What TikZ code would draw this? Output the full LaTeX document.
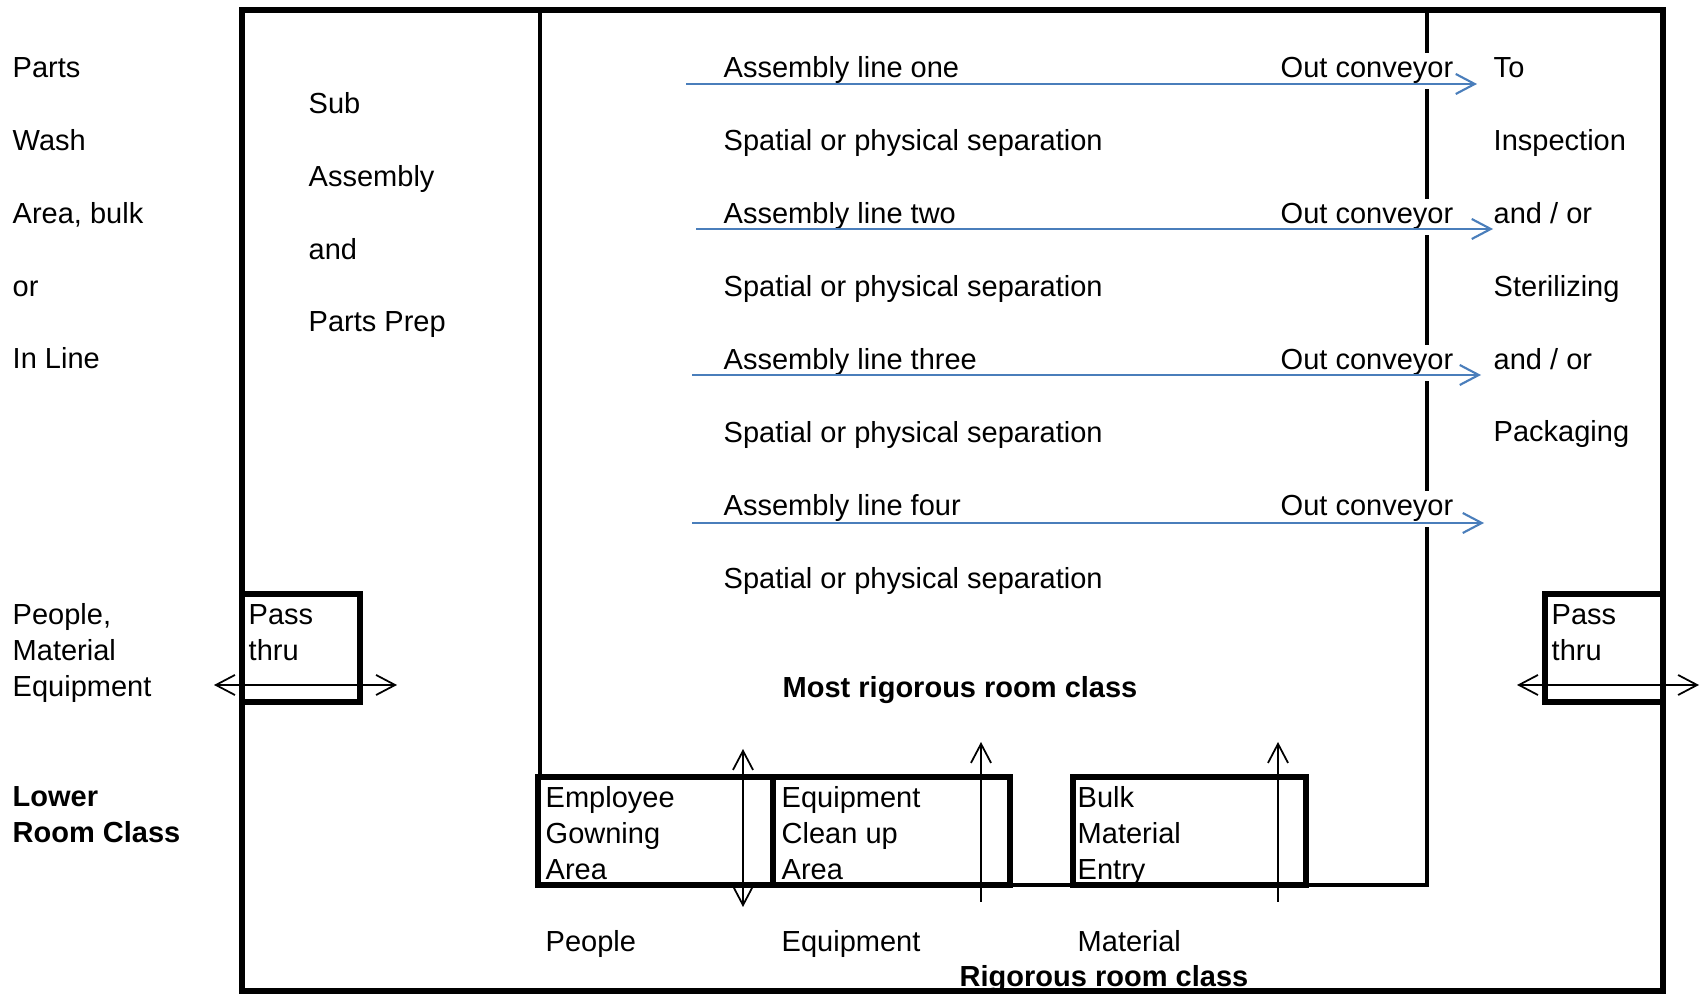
\documentclass[tikz,border=0pt]{standalone}
\usepackage{fontspec}
\setmainfont{Liberation Sans}
\usetikzlibrary{arrows.meta}
\definecolor{lineblue}{RGB}{74,126,187}
\tikzset{txt/.style={anchor=base west, inner sep=0pt,
    font=\fontsize{8.25}{10.3}\selectfont},
  boldtxt/.style={txt, font=\fontsize{8.25}{10.3}\selectfont\bfseries},
  stack/.style={txt, align=left},
  boldstack/.style={boldtxt, align=left},
  widestack/.style={txt, align=left, font=\fontsize{8.25}{20.75}\selectfont},
  outlabel/.style={txt, fill=white, inner ysep=0.05cm},
  wall/.style={line width=1.55pt},
  thinwall/.style={line width=0.9pt},
  flow/.style={line width=0.5pt},
  conveyor/.style={line width=0.6pt, draw=lineblue},
  >={Straight Barb[length=1.9mm, width=2mm]}
}
\begin{document}
\begin{tikzpicture}[x=0.01cm, y=-0.01cm]
  \useasboundingbox (0,0) rectangle (1703,995);
  % walls
  \draw[wall] (242,10) rectangle (1663,991);
  \draw[thinwall] (540,10) -- (540,777);
  \draw[thinwall] (1427,10) -- (1427,885) -- (1306,885);
  \draw[thinwall] (1010,885) -- (1073,885);
  % pass thru and entry rooms
  \draw[wall] (242,594) rectangle (360,702);
  \draw[wall] (1545,594) rectangle (1663,702);
  \draw[wall] (538,777) rectangle (773,885);
  \draw[wall] (773,777) rectangle (1010,885);
  \draw[wall] (1073,777) rectangle (1306,885);

  % stacked texts sit on the baseline of their last line
  \node[widestack] (wash) at (12,369) {Parts\\Wash\\Area, bulk\\or\\In Line};
  \node[widestack] (subasm) at (308,332) {Sub\\Assembly\\and\\Parts Prep};
  \node[widestack] (dest) at (1493,442)
    {To\\Inspection\\and / or\\Sterilizing\\and / or\\Packaging};

  \node[txt] (line1) at (723,78) {Assembly line one};
  \node[txt] (sep1) at (723,151) {Spatial or physical separation};
  \node[txt] (line2) at (723,224) {Assembly line two};
  \node[txt] (sep2) at (723,297) {Spatial or physical separation};
  \node[txt] (line3) at (723,370) {Assembly line three};
  \node[txt] (sep3) at (723,443) {Spatial or physical separation};
  \node[txt] (line4) at (723,516) {Assembly line four};
  \node[txt] (sep4) at (723,589) {Spatial or physical separation};
  \node[outlabel] (out1) at (1280,78) {Out conveyor};
  \node[outlabel] (out2) at (1280,224) {Out conveyor};
  \node[outlabel] (out3) at (1280,370) {Out conveyor};
  \node[outlabel] (out4) at (1280,516) {Out conveyor};

  \node[stack] (pme) at (12,697) {People,\\Material\\Equipment};
  \node[boldstack] (lower) at (12,843) {Lower\\Room Class};
  \node[stack] (passl) at (248,661) {Pass\\thru};
  \node[stack] (passr) at (1551,661) {Pass\\thru};
  \node[boldtxt] (most) at (782,698) {Most rigorous room class};

  \node[stack] (gown) at (545,880) {Employee\\Gowning\\Area};
  \node[stack] (clean) at (781,880) {Equipment\\Clean up\\Area};
  \node[stack] (bulk) at (1077,880) {Bulk\\Material\\Entry};
  \node[txt] (people) at (545,952) {People};
  \node[txt] (equip) at (781,952) {Equipment};
  \node[txt] (mat) at (1077,952) {Material};
  \node[boldtxt] (rigorous) at (959,987) {Rigorous room class};

  % conveyors
  \coordinate (c1a) at (686,84);
  \coordinate (c1b) at (1477,84);
  \coordinate (c2a) at (696,229);
  \coordinate (c2b) at (1493,229);
  \coordinate (c3a) at (692,375);
  \coordinate (c3b) at (1481,375);
  \coordinate (c4a) at (692,523);
  \coordinate (c4b) at (1484,523);
  \draw[conveyor, ->] (c1a) -- (c1b);
  \draw[conveyor, ->] (c2a) -- (c2b);
  \draw[conveyor, ->] (c3a) -- (c3b);
  \draw[conveyor, ->] (c4a) -- (c4b);

  % transfers
  \coordinate (pl1) at (214,685);
  \coordinate (pl2) at (397,685);
  \coordinate (pr1) at (1517,685);
  \coordinate (pr2) at (1699,685);
  \coordinate (g1) at (743,749);
  \coordinate (g2) at (743,907);
  \coordinate (e1) at (981,902);
  \coordinate (e2) at (981,742);
  \coordinate (m1) at (1278,902);
  \coordinate (m2) at (1278,742);
  \draw[flow, <->] (pl1) -- (pl2);
  \draw[flow, <->] (pr1) -- (pr2);
  \draw[flow, <->] (g1) -- (g2);
  \draw[flow, ->] (e1) -- (e2);
  \draw[flow, ->] (m1) -- (m2);
\end{tikzpicture}
\end{document}
